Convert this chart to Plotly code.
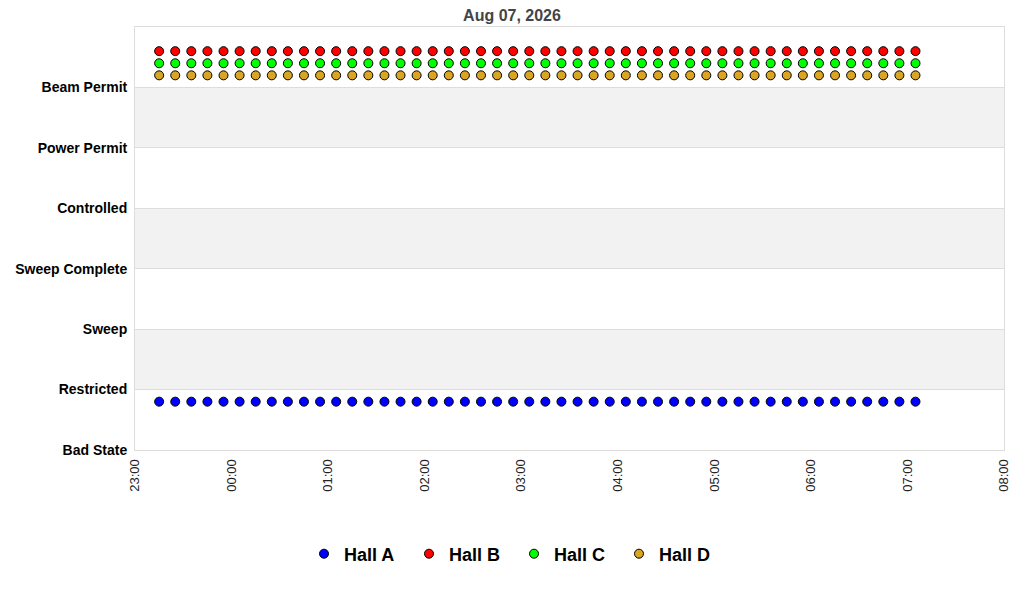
import plotly.graph_objects as go

# Hall status readings, one every 10 minutes
states = ["Bad State", "Restricted", "Sweep", "Sweep Complete",
          "Controlled", "Power Permit", "Beam Permit"]

times = [
    "2026-08-06 23:15", "2026-08-06 23:25", "2026-08-06 23:35", "2026-08-06 23:45",
    "2026-08-06 23:55", "2026-08-07 00:05", "2026-08-07 00:15", "2026-08-07 00:25",
    "2026-08-07 00:35", "2026-08-07 00:45", "2026-08-07 00:55", "2026-08-07 01:05",
    "2026-08-07 01:15", "2026-08-07 01:25", "2026-08-07 01:35", "2026-08-07 01:45",
    "2026-08-07 01:55", "2026-08-07 02:05", "2026-08-07 02:15", "2026-08-07 02:25",
    "2026-08-07 02:35", "2026-08-07 02:45", "2026-08-07 02:55", "2026-08-07 03:05",
    "2026-08-07 03:15", "2026-08-07 03:25", "2026-08-07 03:35", "2026-08-07 03:45",
    "2026-08-07 03:55", "2026-08-07 04:05", "2026-08-07 04:15", "2026-08-07 04:25",
    "2026-08-07 04:35", "2026-08-07 04:45", "2026-08-07 04:55", "2026-08-07 05:05",
    "2026-08-07 05:15", "2026-08-07 05:25", "2026-08-07 05:35", "2026-08-07 05:45",
    "2026-08-07 05:55", "2026-08-07 06:05", "2026-08-07 06:15", "2026-08-07 06:25",
    "2026-08-07 06:35", "2026-08-07 06:45", "2026-08-07 06:55", "2026-08-07 07:05",
]

# state index per reading (0 = Bad State ... 6 = Beam Permit)
hall_a = [1, 1, 1, 1, 1, 1, 1, 1, 1, 1, 1, 1,
          1, 1, 1, 1, 1, 1, 1, 1, 1, 1, 1, 1,
          1, 1, 1, 1, 1, 1, 1, 1, 1, 1, 1, 1,
          1, 1, 1, 1, 1, 1, 1, 1, 1, 1, 1, 1]
hall_b = [6, 6, 6, 6, 6, 6, 6, 6, 6, 6, 6, 6,
          6, 6, 6, 6, 6, 6, 6, 6, 6, 6, 6, 6,
          6, 6, 6, 6, 6, 6, 6, 6, 6, 6, 6, 6,
          6, 6, 6, 6, 6, 6, 6, 6, 6, 6, 6, 6]
hall_c = [6, 6, 6, 6, 6, 6, 6, 6, 6, 6, 6, 6,
          6, 6, 6, 6, 6, 6, 6, 6, 6, 6, 6, 6,
          6, 6, 6, 6, 6, 6, 6, 6, 6, 6, 6, 6,
          6, 6, 6, 6, 6, 6, 6, 6, 6, 6, 6, 6]
hall_d = [6, 6, 6, 6, 6, 6, 6, 6, 6, 6, 6, 6,
          6, 6, 6, 6, 6, 6, 6, 6, 6, 6, 6, 6,
          6, 6, 6, 6, 6, 6, 6, 6, 6, 6, 6, 6,
          6, 6, 6, 6, 6, 6, 6, 6, 6, 6, 6, 6]

halls = [
    ("Hall A", hall_a, "#0000ff", -0.2),
    ("Hall B", hall_b, "#ff0000", 0.6),
    ("Hall C", hall_c, "#00ff00", 0.4),
    ("Hall D", hall_d, "#daa520", 0.2),
]

fig = go.Figure()

for name, vals, color, shift in halls:
    fig.add_trace(go.Scatter(
        x=times,
        y=[v + shift for v in vals],
        mode="markers",
        name=name,
        marker=dict(size=9, color=color, line=dict(color="black", width=1)),
    ))

# alternating grey bands
for lo in [1, 3, 5]:
    fig.add_shape(type="rect", xref="paper", yref="y", x0=0, x1=1, y0=lo, y1=lo + 1,
                  fillcolor="#f2f2f2", line_width=0, layer="below")

fig.update_xaxes(
    type="date",
    range=["2026-08-06 23:00", "2026-08-07 08:00"],
    dtick=3600000,
    tickformat="%H:%M",
    tickangle=-90,
    tickfont=dict(family="Arial", size=13, color="#222"),
    ticklabelstandoff=3,
    showgrid=False,
    showline=True, mirror=True, linecolor="#dddddd", linewidth=1,
    zeroline=False,
    automargin=False,
)

fig.update_yaxes(
    range=[0, 7],
    tickvals=list(range(len(states))),
    ticktext=["<b>%s</b>" % s for s in states],
    tickfont=dict(family="Arial", size=14, color="black"),
    ticklabelstandoff=4,
    showgrid=True, gridcolor="#dddddd", gridwidth=1,
    showline=True, mirror=True, linecolor="#dddddd", linewidth=1,
    zeroline=False,
    automargin=False,
)

W, H = 1008, 592
fig.update_layout(
    width=W,
    height=H,
    margin=dict(l=127, r=12, t=19, b=150),
    plot_bgcolor="white",
    paper_bgcolor="white",
    title=dict(text="<b>Aug 07, 2026</b>", x=504 / W, xref="container", xanchor="center",
               y=1 - 7 / H, yanchor="middle",
               font=dict(family="Arial", size=16, color="#444444")),
    legend=dict(
        orientation="h",
        x=506 / W, xref="container", xanchor="center",
        y=1 - 546 / H, yref="container", yanchor="middle",
        font=dict(family="Arial", size=18, color="black", weight="bold"),
        itemsizing="trace",
        entrywidth=60,
    ),
)

fig.write_html("out.html")
